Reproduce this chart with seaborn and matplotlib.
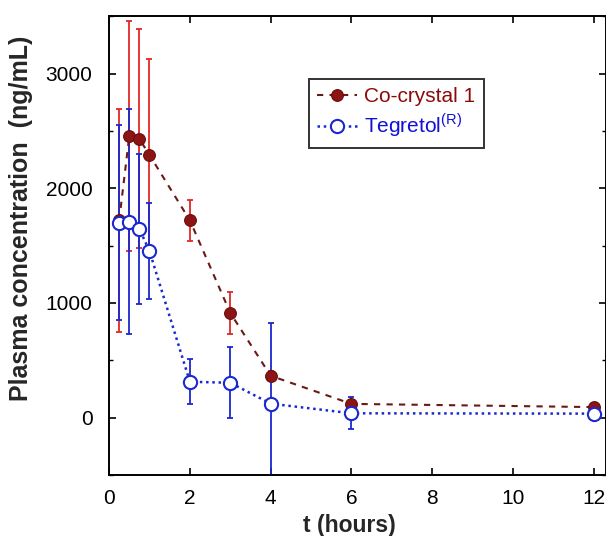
import matplotlib
matplotlib.use("Agg")
import matplotlib.pyplot as plt
import seaborn as sns
import pandas as pd
import numpy as np
from matplotlib.ticker import MultipleLocator

t_hours = [0.25, 0.5, 0.75, 1.0, 2.0, 3.0, 4.0, 6.0, 12.0]
cocrystal_mean = [1720, 2455, 2430, 2290, 1720, 913, 365, 120, 92]
cocrystal_sd = [975, 1000, 955, 840, 180, 183, 45, 30, 20]
tegretol_mean = [1700, 1710, 1645, 1452, 313, 304, 122, 38, 35]
tegretol_sd = [850, 980, 650, 415, 195, 310, 700, 140, 25]
series_names = ["Co-crystal 1", "Tegretol$^{\\mathregular{(R)}}$"]

df = pd.concat([
    pd.DataFrame({"t": t_hours, "conc": cocrystal_mean, "sd": cocrystal_sd, "series": series_names[0]}),
    pd.DataFrame({"t": t_hours, "conc": tegretol_mean, "sd": tegretol_sd, "series": series_names[1]}),
])

sns.set_style("ticks")
plt.rcParams['font.family'] = ['Liberation Sans', 'DejaVu Sans']
plt.rcParams['mathtext.fontset'] = 'custom'
plt.rcParams['mathtext.rm'] = 'Liberation Sans'

fig = plt.figure(figsize=(6.06, 5.36), dpi=100)
ax = fig.add_axes([0.18, 0.1138, 0.82, 0.856])

red_dark = "#8b1414"
red_err = "#e02828"
blue = "#1a28d0"

d1 = df[df.series == series_names[0]]
d2 = df[df.series == series_names[1]]

ax.errorbar(d1.t, d1.conc, yerr=d1.sd, fmt="none", ecolor=red_err, elinewidth=1.3, capsize=2.5, capthick=1.3, zorder=2)
ax.errorbar(d2.t, d2.conc, yerr=d2.sd, fmt="none", ecolor=blue, elinewidth=1.3, capsize=2.5, capthick=1.3, zorder=2)

sns.lineplot(data=d1, x="t", y="conc", ax=ax, color="#6a1a14", linestyle=(0, (3, 3)), linewidth=1.5,
             marker="o", markersize=8.5, markerfacecolor=red_dark, markeredgecolor="#6a0a0a",
             label=series_names[0], zorder=3)
sns.lineplot(data=d2, x="t", y="conc", ax=ax, color=blue, linestyle=(0, (1, 1.5)), linewidth=1.8,
             marker="o", markersize=9.5, markerfacecolor="white", markeredgecolor=blue, markeredgewidth=1.5,
             label=series_names[1], zorder=4)

ax.set_xlim(0, 12.3)
ax.set_ylim(-500, 3500)
ax.xaxis.set_major_locator(MultipleLocator(2))
ax.yaxis.set_major_locator(MultipleLocator(1000))
ax.yaxis.set_minor_locator(MultipleLocator(500))
ax.tick_params(which="both", direction="in", top=True, right=True, labelsize=15, colors="black")
ax.tick_params(axis="y", which="major", pad=12)
ax.tick_params(axis="x", which="major", pad=10)
ax.tick_params(which="major", length=5, width=1.2)
ax.tick_params(which="minor", length=3, width=1.0)
ax.set_yticks([0, 1000, 2000, 3000])
for s in ax.spines.values():
    s.set_linewidth(1.4)
    s.set_color("black")

ax.set_xlabel("t (hours)", fontsize=16.5, fontweight="bold", labelpad=2)
ax.xaxis.set_label_coords(0.483, -0.085)
ax.set_ylabel("Plasma concentration  (ng/mL)", fontsize=18, fontweight="bold", labelpad=6)
ax.yaxis.set_label_coords(-0.153, 0.56)

leg = ax.legend(loc="upper left", bbox_to_anchor=(0.402, 0.863), borderaxespad=0, fontsize=15, frameon=True,
                fancybox=False, shadow=False, edgecolor="black", handlelength=1.9,
                handletextpad=0.35, borderpad=0.4, labelspacing=0.25)
leg.get_frame().set_linewidth(1.4)
leg.get_texts()[0].set_color("#8b0a0a")
leg.get_texts()[1].set_color("#1010d8")

fig.savefig("out.png", dpi=100)
